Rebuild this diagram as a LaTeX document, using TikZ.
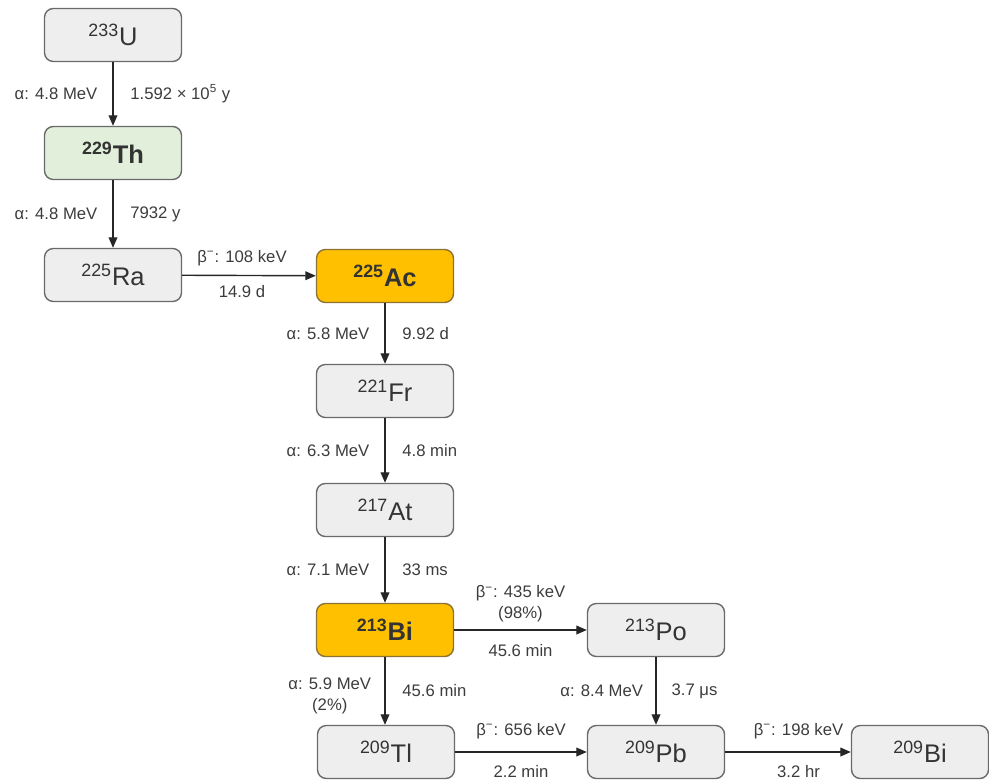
\documentclass[tikz,border=0pt]{standalone}
\usepackage{fontspec}
\setmainfont{Liberation Sans}
\usetikzlibrary{arrows.meta}
\definecolor{boxgray}{HTML}{EFEEEE}
\definecolor{edgegray}{HTML}{6A6A6A}
\definecolor{thgreen}{HTML}{E2EFDA}
\definecolor{hotorange}{HTML}{FFC000}
\definecolor{hotedge}{HTML}{8C7235}
\definecolor{labelgray}{HTML}{3C3C3C}
\tikzset{
  nuclide/.style={draw=edgegray, fill=boxgray, rounded corners=5pt, line width=0.8pt,
    minimum width=2.74cm, minimum height=1.06cm, text=black!80, font=\fontsize{14.5}{16}\selectfont},
  parent/.style={nuclide, fill=thgreen, font=\fontsize{14.5}{16}\selectfont\bfseries},
  hot/.style={nuclide, fill=hotorange, draw=hotedge, font=\fontsize{14.5}{16}\selectfont\bfseries},
  decay/.style={-{Triangle[length=6pt,width=5pt]}, line width=0.8pt, black!85},
  lbl/.style={font=\fontsize{9.5}{12}\selectfont, text=labelgray, align=center, inner sep=1pt}
}
\begin{document}
\begin{tikzpicture}[x=0.02cm, y=-0.02cm]
\useasboundingbox (0,0) rectangle (989,783);
% nuclides
\node[nuclide] (U233) at (113,35) {\textsuperscript{233}U};
\node[parent] (Th229) at (113,153) {\textsuperscript{229}Th};
\node[nuclide] (Ra225) at (113,275) {\textsuperscript{225}Ra};
\node[hot] (Ac225) at (385,276) {\textsuperscript{225}Ac};
\node[nuclide] (Fr221) at (385,391) {\textsuperscript{221}Fr};
\node[nuclide] (At217) at (385,510) {\textsuperscript{217}At};
\node[hot] (Bi213) at (385,630) {\textsuperscript{213}Bi};
\node[nuclide] (Po213) at (656,630) {\textsuperscript{213}Po};
\node[nuclide] (Tl209) at (386,752) {\textsuperscript{209}Tl};
\node[nuclide] (Pb209) at (656,752) {\textsuperscript{209}Pb};
\node[nuclide] (Bi209) at (920,752) {\textsuperscript{209}Bi};
% decays
\draw[decay] (U233) -- node[lbl, left=7.5pt] {α: 4.8 MeV} node[lbl, right=8.5pt] {1.592 × 10\textsuperscript{5} y} (Th229);
\draw[decay] (Th229) -- node[lbl, left=7.5pt] {α: 4.8 MeV} node[lbl, right=8.5pt] {7932 y} (Ra225);
\draw[decay] (Ra225) -- node[lbl, above=4pt, xshift=-4pt] {β\textsuperscript{−}: 108 keV} node[lbl, below=4pt, xshift=-4pt] {14.9 d} (Ac225);
\draw[decay] (Ac225) -- node[lbl, left=7.5pt] {α: 5.8 MeV} node[lbl, right=8.5pt] {9.92 d} (Fr221);
\draw[decay] (Fr221) -- node[lbl, left=7.5pt] {α: 6.3 MeV} node[lbl, right=8.5pt] {4.8 min} (At217);
\draw[decay] (At217) -- node[lbl, left=7.5pt] {α: 7.1 MeV} node[lbl, right=8.5pt] {33 ms} (Bi213);
\draw[decay] (Bi213) -- node[lbl, above=3pt] {β\textsuperscript{−}: 435 keV\\(98\%)} node[lbl, below=7pt] {45.6 min} (Po213);
\draw[decay] (Bi213) -- node[lbl, left=6.5pt, yshift=-3pt] {α: 5.9 MeV\\(2\%)} node[lbl, right=8.5pt] {45.6 min} (Bi213 |- Tl209.north);
\draw[decay] (Po213) -- node[lbl, left=6pt] {α: 8.4 MeV} node[lbl, right=7.5pt] {3.7 μs} (Pb209);
\draw[decay] (Tl209) -- node[lbl, above=6pt] {β\textsuperscript{−}: 656 keV} node[lbl, below=6pt] {2.2 min} (Pb209);
\draw[decay] (Pb209) -- node[lbl, above=6pt, xshift=6pt] {β\textsuperscript{−}: 198 keV} node[lbl, below=6pt, xshift=6pt] {3.2 hr} (Bi209);
\end{tikzpicture}
\end{document}
